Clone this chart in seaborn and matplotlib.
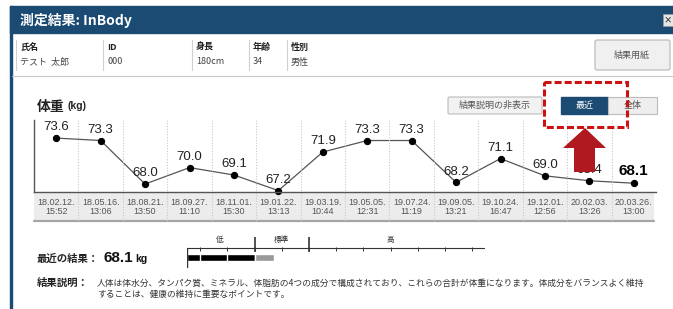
import numpy as np
import seaborn as sns
import matplotlib.pyplot as plt
from matplotlib.patches import Rectangle, FancyBboxPatch, Polygon

# measurement history (InBody, weight)
dates = ["18.02.12.", "18.05.16.", "18.08.21.", "18.09.27.", "18.11.01.", "19.01.22.", "19.03.19.",
         "19.05.05.", "19.07.24.", "19.09.05.", "19.10.24.", "19.12.01.", "20.02.03.", "20.03.26."]
times = ["15:52", "13:06", "13:50", "11:10", "15:30", "13:13", "10:44",
         "12:31", "11:19", "13:21", "16:47", "12:56", "13:26", "13:00"]
weights = [73.6, 73.3, 68.0, 70.0, 69.1, 67.2, 71.9, 73.3, 73.3, 68.2, 71.1, 69.0, 68.4, 68.1]

info_labels = ["氏名", "ID", "身長", "年齢", "性別"]
info_values = ["テスト  太郎", "000", "180cm", "34", "男性"]

# gauge (% of standard weight)
gauge_ticks = [55, 70, 85, 100, 115, 130, 145, 160, 175, 190, 205]
gauge_major = [85, 115]
gauge_value = 96
gauge_names = ["低", "標準", "高"]
gauge_name_pos = [66, 100, 160]

desc1 = "人体は体水分、タンパク質、ミネラル、体脂肪の4つの成分で構成されており、これらの合計が体重になります。体成分をバランスよく維持"
desc2 = "することは、健康の維持に重要なポイントです。"

sns.set_theme(style="white")
plt.rcParams['font.family'] = ['Noto Sans CJK JP', 'DejaVu Sans']
NUM = ['Liberation Sans', 'Noto Sans CJK JP']
NAVY = "#1b4b73"

W, H = 673, 309
fig = plt.figure(figsize=(W / 100, H / 100), dpi=100)


def px(x0, y0, x1, y1):
    return [x0 / W, 1 - y1 / H, (x1 - x0) / W, (y1 - y0) / H]


bg = fig.add_axes([0, 0, 1, 1])
bg.set_xlim(0, W)
bg.set_ylim(H, 0)
bg.axis('off')

# header + frame
bg.add_patch(Rectangle((10, 6), W - 10, 27, color=NAVY))
bg.add_patch(Rectangle((10, 6), 2, H - 6, color=NAVY))
bg.text(20, 20, "測定結果: InBody", color="white", fontsize=10, fontweight="bold", va="center")
bg.add_patch(Rectangle((663, 14), 10, 12, fc="#e6e6e6", ec="#999999", lw=0.6))
bg.text(668, 20, "×", fontsize=6, va="center", ha="center", fontweight="bold", color="#333")

# patient info row
for lab, val, x in zip(info_labels, info_values, [20, 107, 196, 253, 291]):
    bg.plot([x - 4, x - 4], [40, 70], color="#d0d0d0", lw=0.8)
    bg.text(x, 47, lab, fontsize=6.5, fontweight="bold", color="#222", va="center")
    bg.text(x, 62, val, fontsize=6.5, color="#444", va="center")
bg.plot([12, W], [76, 76], color="#c8c8c8", lw=0.8)
bg.add_patch(FancyBboxPatch((595, 40), 75, 30, boxstyle="round,pad=0,rounding_size=2",
                            fc="#f0f0f0", ec="#b5b5b5", lw=0.8))
bg.text(632, 55, "結果用紙", fontsize=6.5, color="#555", ha="center", va="center")

# buttons
bg.add_patch(FancyBboxPatch((448, 97), 94, 17, boxstyle="round,pad=0,rounding_size=1.5",
                            fc="#f2f2f2", ec="#bbbbbb", lw=0.8))
bg.text(495, 105.5, "結果説明の非表示", fontsize=6.5, color="#555", ha="center", va="center")
bg.add_patch(Rectangle((561, 97), 47, 17, fc=NAVY, ec=NAVY))
bg.text(584.5, 105.5, "最近", fontsize=6.5, color="white", ha="center", va="center")
bg.add_patch(Rectangle((608, 97), 49, 17, fc="#eeeeee", ec="#bbbbbb", lw=0.8))
bg.text(632.5, 105.5, "全体", fontsize=6.5, color="#555", ha="center", va="center")

bg.text(37, 107, "体重", fontsize=10, fontweight="bold", va="center", color="#222")
bg.text(67, 106, "(kg)", fontsize=7.5, fontweight="bold", va="center", family=NUM, color="#222")

# date row background
bg.add_patch(Rectangle((34, 192), 620, 29, fc="#ececec", ec="none"))
bg.plot([34, 654], [221, 221], color="#a5a5a5", lw=1.6)

# weight chart
ax = fig.add_axes(px(34, 120, 656, 192))
ax.set_facecolor("none")
idx = np.arange(len(weights))
sns.lineplot(x=idx, y=weights, ax=ax, color="#555555", lw=0.9, marker="o", markersize=4.5,
             markerfacecolor="black", markeredgecolor="black", clip_on=False)
ax.set_xlim(-0.5, len(weights) - 0.5)
ax.set_ylim(67.03, 75.8)
ax.vlines(idx[:-1] + 0.5, -29 / 72, 1, transform=ax.get_xaxis_transform(), clip_on=False,
          color="#c8c8c8", lw=0.8, ls=(0, (1, 1.5)))
for s in ["top", "right"]:
    ax.spines[s].set_visible(False)
for s in ["left", "bottom"]:
    ax.spines[s].set_color("#555555")
    ax.spines[s].set_linewidth(1)
ax.set_yticks([])
ax.set_xticks(idx)
ax.set_xticklabels([f"{d}\n{t}" for d, t in zip(dates, times)], fontsize=6.5, color="#555",
                   family=NUM, linespacing=1.1)
ax.tick_params(axis="x", length=0, pad=4)
ax.set_xlabel("")
ax.set_ylabel("")
for i, w in zip(idx, weights):
    last = i == idx[-1]
    ax.annotate(f"{w:.1f}", (i, w), xytext=(0, 3.5), textcoords="offset points", ha="center",
                va="bottom", family=NUM, fontsize=11 if last else 9.5,
                fontweight="bold" if last else "normal", color="black" if last else "#222")

# gauge
gx = fig.add_axes(px(187, 230, 485, 272))
gx.set_xlim(47.8, 212)
gx.set_ylim(272, 230)
gx.axis("off")
gx.plot([47.8, 212], [248, 248], color="#333", lw=0.8)
gx.plot([47.8, 47.8], [248, 267], color="#333", lw=1)
gx.vlines(gauge_ticks, 246.5, 250.5, color="#333", lw=0.7)
gx.vlines(gauge_major, 237, 252, color="#333", lw=1.2)
gx.barh(257.5, 85 - 47.8, left=47.8, height=7.5, color="black")
gx.barh(257.5, gauge_value - 85, left=85, height=7.5, color="#999999")
gx.vlines([55, 70], 253.8, 261.2, color="white", lw=1)
for name, pos in zip(gauge_names, gauge_name_pos):
    gx.text(pos, 240, name, fontsize=5.5, ha="center", va="center", color="#333")

bg.text(37, 262, "最近の結果：", fontsize=7.5, fontweight="bold", va="baseline", color="#222")
bg.text(103, 262, "68.1", fontsize=11, fontweight="bold", va="baseline", family=NUM, color="#111")
bg.text(135, 262, "kg", fontsize=7.5, fontweight="bold", va="baseline", family=NUM, color="#111")
bg.text(37, 283, "結果説明：", fontsize=7.5, fontweight="bold", va="center", color="#222")
bg.text(97, 283, desc1, fontsize=6.3, va="center", color="#333")
bg.text(97, 294, desc2, fontsize=6.3, va="center", color="#333")

# highlight overlay
top = fig.add_axes([0, 0, 1, 1], zorder=5)
top.set_xlim(0, W)
top.set_ylim(H, 0)
top.axis("off")
top.patch.set_alpha(0)
top.add_patch(Rectangle((544, 82), 83, 45, fill=False, ec="#cc1111", lw=2.2, ls=(0, (2.3, 1.0))))
top.add_patch(Polygon([(563, 148), (585, 128), (606, 148), (595, 148), (595, 172), (574, 172), (574, 148)],
                      closed=True, fc="#b0191f", ec="none"))

fig.savefig("out.png", dpi=100)
